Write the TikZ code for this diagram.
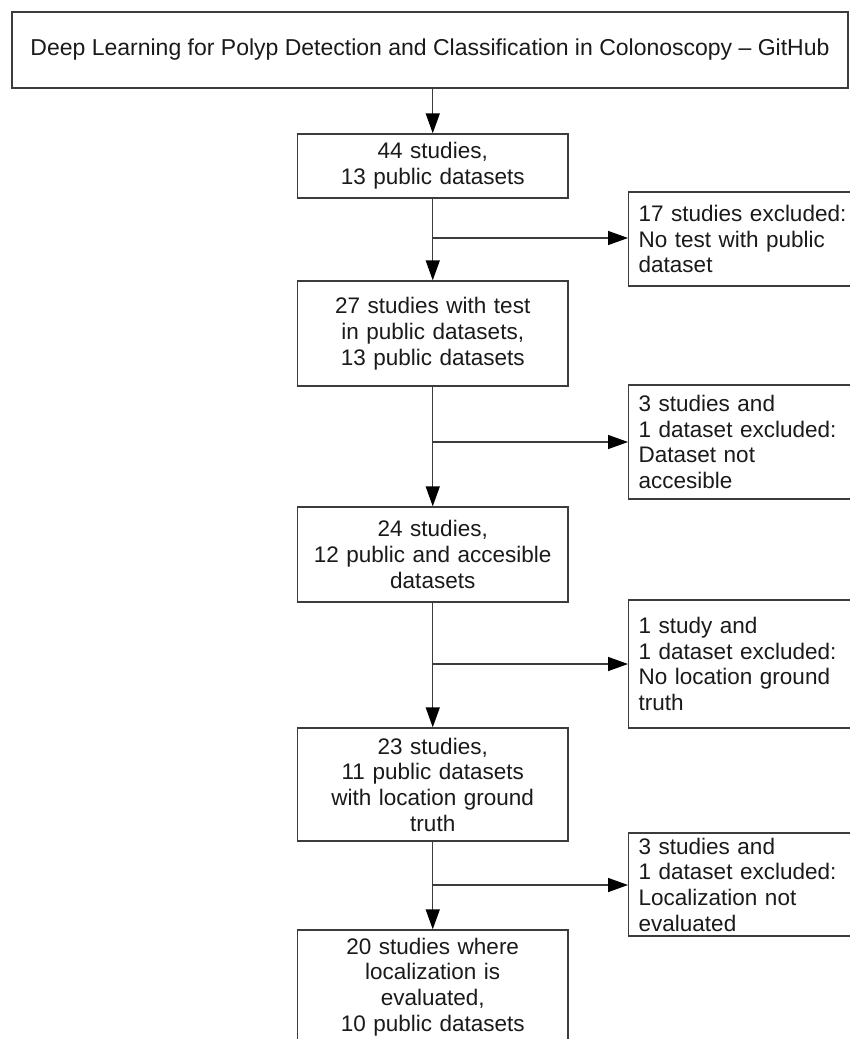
\documentclass[tikz,border=0pt]{standalone}
\usepackage{fontspec}
\setmainfont{Liberation Sans}
\usetikzlibrary{arrows.meta}
\definecolor{txtc}{HTML}{1A1A1A}
\definecolor{linec}{HTML}{3C3C3C}
\begin{document}
\begin{tikzpicture}[x=1pt,y=-1pt,
  every node/.style={font=\fontsize{22.5}{25.7}\selectfont, text=txtc},
  box/.style={draw=linec, line width=1.4pt, align=center, inner sep=0pt},
  mainbox/.style={box, minimum width=270.5pt, text width=262pt},
  sidebox/.style={box, anchor=west, text width=240pt, inner xsep=10pt, align=left, minimum width=260pt},
  plainline/.style={draw=linec, line width=1.4pt},
  arr/.style={plainline, -{Triangle[length=20pt,width=14pt,fill=black,color=black]}}]
\path[use as bounding box, fill=white] (0,0) rectangle (850,1039);
\clip (0,0) rectangle (850,1039);

\node[box, minimum width=836pt, minimum height=76pt, font=\fontsize{23}{26}\selectfont] (top) at (430,50)
  {Deep Learning for Polyp Detection and Classification in Colonoscopy – GitHub};

\node[mainbox, minimum height=64pt]  (b1) at (432.75,166)   {44 studies,\\13 public datasets};
\node[mainbox, minimum height=105pt] (b2) at (432.75,333.5) {27 studies with test\\in public datasets,\\13 public datasets};
\node[mainbox, minimum height=95pt]  (b3) at (432.75,554.5) {24 studies,\\12 public and accesible\\datasets};
\node[mainbox, minimum height=113pt] (b4) at (432.75,784.5) {23 studies,\\11 public datasets\\with location ground\\truth};
\node[mainbox, minimum height=114pt] (b5) at (432.75,987)   {20 studies where\\localization is\\evaluated,\\10 public datasets};

\node[sidebox, minimum height=94pt]  (r1) at (628,239)   {17 studies excluded:\\No test with public\\dataset};
\node[sidebox, minimum height=114pt] (r2) at (628,442)   {3 studies and\\1 dataset excluded:\\Dataset not\\accesible};
\node[sidebox, minimum height=128pt] (r3) at (628,664)   {1 study and\\1 dataset excluded:\\No location ground\\truth};
\node[sidebox, minimum height=103pt] (r4) at (628,884.5) {3 studies and\\1 dataset excluded:\\Localization not\\evaluated};

\coordinate (j1) at (432.75,238);
\coordinate (j2) at (432.75,442);
\coordinate (j3) at (432.75,664);
\coordinate (j4) at (432.75,885);

\draw[arr] (b1.north |- top.south) -- (b1.north);
\draw[arr] (b1.south) -- (b2.north);
\draw[arr] (b2.south) -- (b3.north);
\draw[arr] (b3.south) -- (b4.north);
\draw[arr] (b4.south) -- (b5.north);

\draw[arr] (j1) -- (j1 -| r1.west);
\draw[arr] (j2) -- (j2 -| r2.west);
\draw[arr] (j3) -- (j3 -| r3.west);
\draw[arr] (j4) -- (j4 -| r4.west);
\end{tikzpicture}
\end{document}
